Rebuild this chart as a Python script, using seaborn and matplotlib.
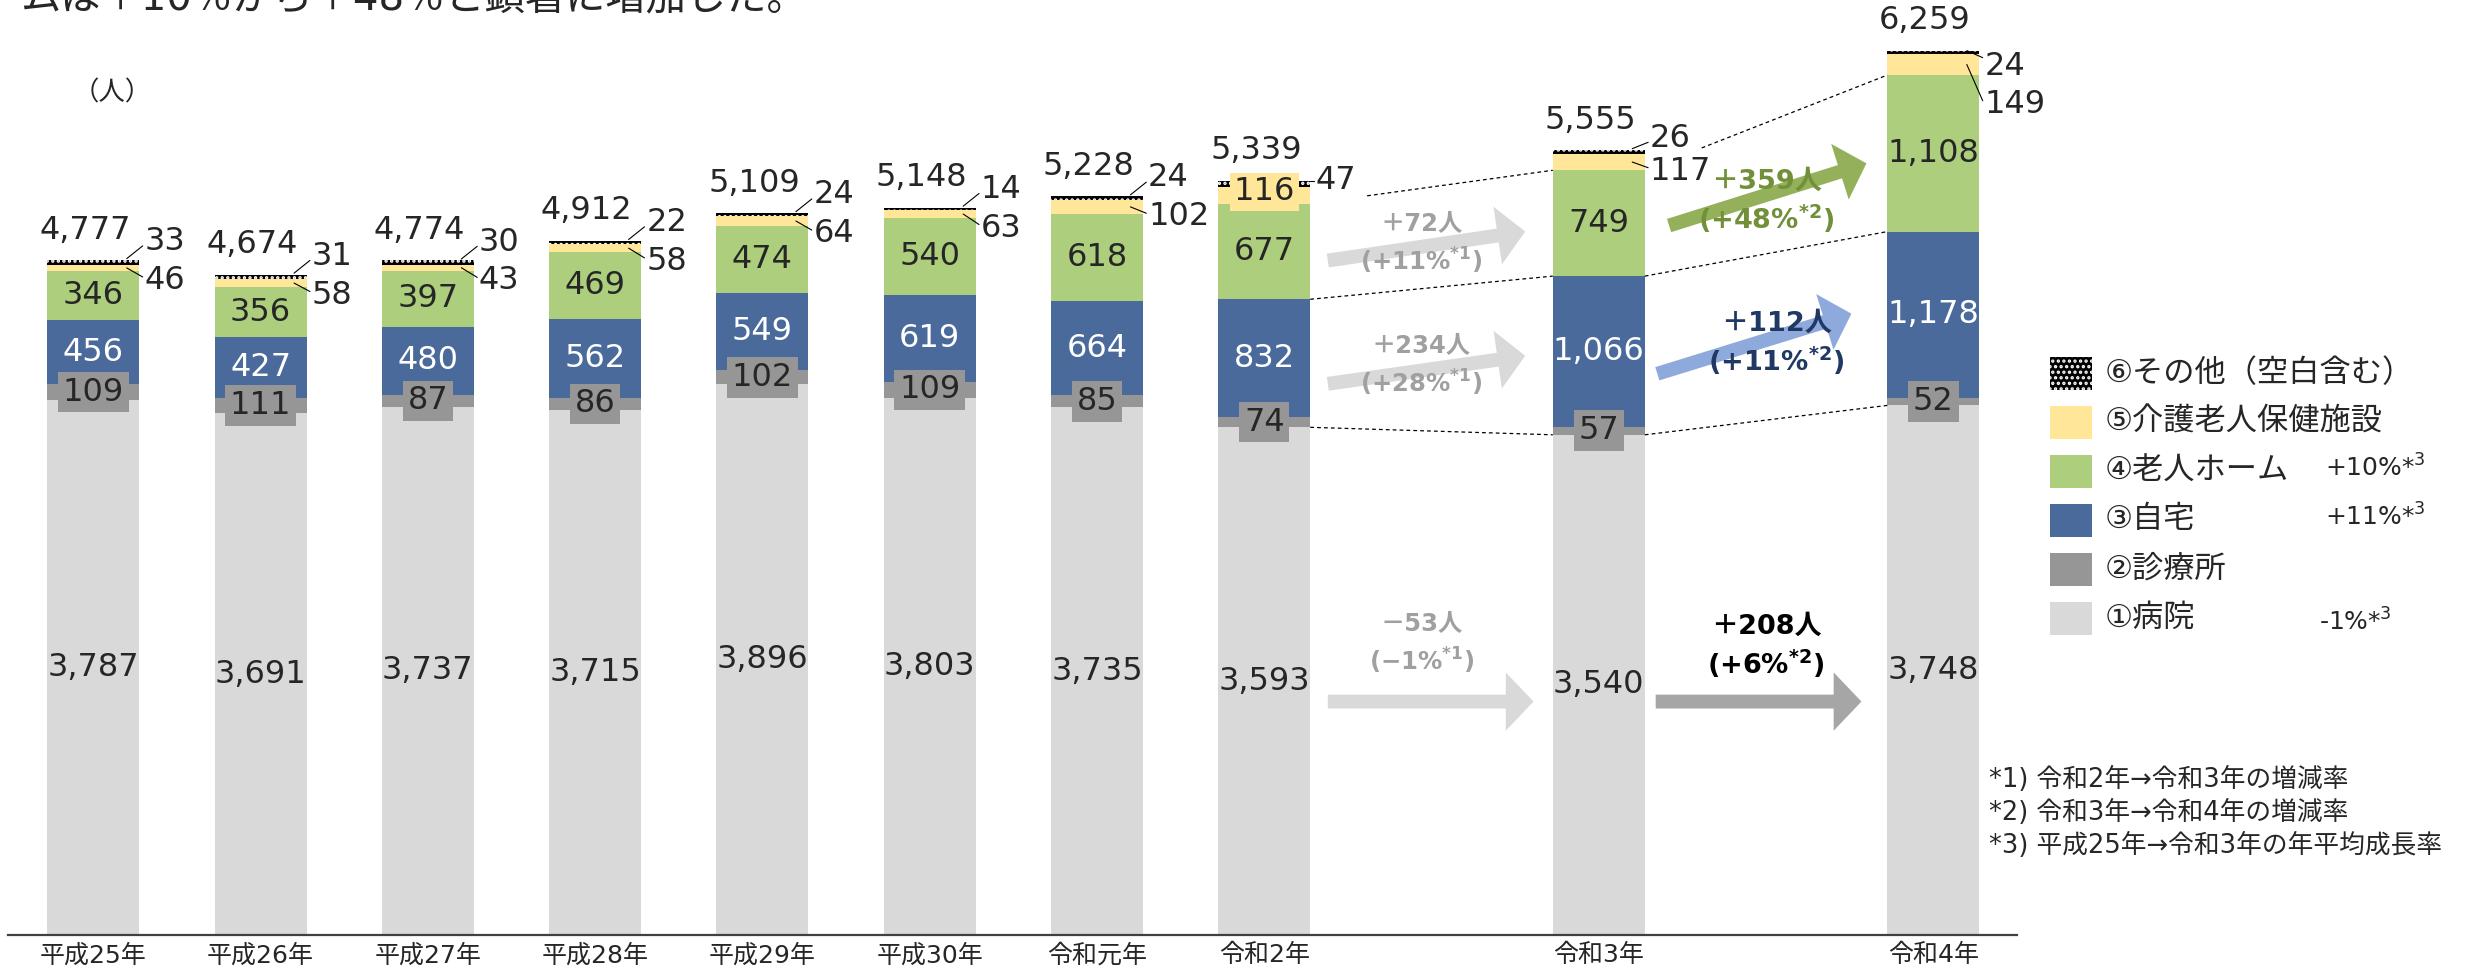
import numpy as np
import seaborn as sns
import matplotlib.pyplot as plt
from matplotlib.patches import Rectangle, FancyArrowPatch, ArrowStyle


# x axis categories
YEARS = ['平成25年', '平成26年', '平成27年', '平成28年', '平成29年',
  '平成30年', '令和元年', '令和2年', '令和3年', '令和4年']

# stacked series, bottom to top (人)
HOSPITAL = [3787, 3691, 3737, 3715, 3896, 3803, 3735, 3593, 3540, 3748]
CLINIC = [109, 111, 87, 86, 102, 109, 85, 74, 57, 52]
HOME = [456, 427, 480, 562, 549, 619, 664, 832, 1066, 1178]
NURSING = [346, 356, 397, 469, 474, 540, 618, 677, 749, 1108]
ROKEN = [46, 58, 43, 58, 64, 63, 102, 116, 117, 149]
OTHER = [33, 31, 30, 22, 24, 14, 24, 47, 26, 24]

SERIES_NAMES = ['①病院', '②診療所', '③自宅', '④老人ホーム',
  '⑤介護老人保健施設', '⑥その他（空白含む）']

FOOTNOTES = ['*1) 令和2年→令和3年の増減率',
  '*2) 令和3年→令和4年の増減率',
  '*3) 平成25年→令和3年の年平均成長率']

HEADLINE = 'ムは＋10％から＋48％と顕著に増加した。'

# ---- layout / style ----
W, H, DPI = 2471, 972, 100
POS = [0, 1, 2, 3, 4, 5, 6, 7, 9, 11]   # gaps before 令和3年 and 令和4年
BAR_W = 0.55
PX_PER_UNIT = 0.1413
COLORS = ['#D9D9D9', '#969696', '#4A6A9C', '#ADCF7D', '#FFE699', '#000000']
OTHER_DY = [130] * 7 + [0, 85, -110]      # label offsets from bar top
ROKEN_DY = [-145] * 7 + [None, -150, -380]
FS_VAL = 23


def fx(px):
  return px / W


def fy(py):
  return 1 - py / H


'''
Stack the six series by drawing the running totals
from the tallest down, each on top of the previous one.
'''
def draw_bars(ax, layers):
  cum = np.cumsum(np.array(layers), axis=0)
  for k in reversed(range(len(layers))):
    extra = dict(hatch='...', edgecolor='white') if k == 5 else dict(edgecolor='none')
    sns.barplot(x=POS, y=cum[k], native_scale=True, width=BAR_W,
      color=COLORS[k], saturation=1, errorbar=None, linewidth=0, ax=ax, **extra)
  return cum


'''
Value labels inside / beside / above every bar.
'''
def label_bars(ax, cum, layers):
  hosp, clin, home, nurs, roken, other = layers
  for i, x in enumerate(POS):
    total = cum[5][i]
    ax.text(x, hosp[i] / 2, f'{hosp[i]:,}', ha='center', va='center', fontsize=FS_VAL)
    ax.text(x, cum[0][i] + clin[i] / 2, f'{clin[i]:,}', ha='center', va='center',
      fontsize=FS_VAL, bbox=dict(boxstyle='square,pad=0.15', fc=COLORS[1], ec='none'))
    ax.text(x, cum[1][i] + home[i] / 2, f'{home[i]:,}', ha='center', va='center',
      fontsize=FS_VAL, color='white')
    ax.text(x, cum[2][i] + nurs[i] / 2, f'{nurs[i]:,}', ha='center', va='center',
      fontsize=FS_VAL)
    ax.text(x - 0.05, total + 152, f'{total:,}', ha='center', va='baseline', fontsize=FS_VAL)

    # ⑥ and ⑤ sit right of the bar with a small leader line
    lx = x + BAR_W / 2 + 0.03
    oy = total + OTHER_DY[i]
    ax.text(lx, oy, f'{other[i]}', ha='left', va='center', fontsize=FS_VAL)
    if OTHER_DY[i] > 0:
      ax.plot([x + 0.2, lx - 0.01], [total + 10, oy - 30], color='black', lw=0.8)
    elif OTHER_DY[i] < 0:
      ax.plot([x + 0.2, lx - 0.01], [total, oy + 60], color='black', lw=0.8)
    else:
      ax.plot([x + BAR_W / 2, lx - 0.01], [total, total], color='black', lw=0.8)

    yc = cum[3][i] + roken[i] / 2
    if ROKEN_DY[i] is None:  # 令和2年: label drawn on the bar
      ax.text(x, yc + 25, f'{roken[i]}', ha='center', va='center', fontsize=FS_VAL,
        bbox=dict(boxstyle='square,pad=0.12', fc=COLORS[4], ec='none'))
      continue
    ky = total + ROKEN_DY[i]
    ax.text(lx, ky, f'{roken[i]}', ha='left', va='center', fontsize=FS_VAL)
    ax.plot([x + 0.2, lx - 0.01], [yc, ky + 25], color='black', lw=0.8)


'''
Dashed guides between 令和2年, 令和3年 and 令和4年.
'''
def draw_links(ax, cum):
  for k in (0, 2, 3):
    for i in (7, 8):
      x0, x1 = POS[i] + BAR_W / 2, POS[i + 1] - BAR_W / 2
      y0, y1 = cum[k][i], cum[k][i + 1]
      if k == 3:  # start after the side labels
        skip = 0.34
        y0 = y0 + (y1 - y0) * skip / (x1 - x0)
        x0 = x0 + skip
      ax.plot([x0, x1], [y0, y1], color='black', lw=0.9, ls=(0, (3, 2.5)), zorder=2)


def change_text(before, after, mark):
  d = after - before
  pct = round(d / before * 100)
  line1 = ('＋' if d >= 0 else '－') + f'{abs(d)}人'
  line2 = '(' + ('+' if pct >= 0 else '−') + f'{abs(pct)}%' + r'$^{\mathbf{*' + mark + '}}$)'
  return line1, line2


'''
Block arrows with the change counts between the last three years.
'''
def draw_arrows(ax, layers):
  hosp, clin, home, nurs = layers[:4]
  # (series, from, to, tail xy, tip xy, arrow colour, text colour, text x, text y, size)
  notes = [
    (nurs, 7, 8, (7.38, 4773), (8.56, 4979), '#D9D9D9', '#A0A0A0', 7.94, 5035, 17.5),
    (home, 7, 8, (7.38, 3901), (8.56, 4099), '#D9D9D9', '#A0A0A0', 7.94, 4170, 17.5),
    (hosp, 7, 8, (7.38, 1652), (8.61, 1652), '#D9D9D9', '#A0A0A0', 7.94, 2199, 17.5),
    (nurs, 8, 9, (9.42, 5021), (10.6, 5461), '#94B05A', '#72903A', 10.0, 5333, 19.5),
    (home, 8, 9, (9.35, 3972), (10.51, 4397), '#8EA9DB', '#1F3864', 10.06, 4326, 19.5),
    (hosp, 8, 9, (9.34, 1652), (10.57, 1652), '#A6A6A6', '#000000', 10.0, 2184, 19.5),
  ]
  style = ArrowStyle.Simple(head_length=20, head_width=42, tail_width=10)
  for s, a, b, p0, p1, ac, tc, tx, ty, fs in notes:
    ax.add_patch(FancyArrowPatch(p0, p1, arrowstyle=style, mutation_scale=1,
      color=ac, lw=0, shrinkA=0, shrinkB=0, zorder=1.5))
    l1, l2 = change_text(s[a], s[b], '1' if a == 7 else '2')
    ax.text(tx, ty, l1, ha='center', va='center', fontsize=fs, color=tc, weight='bold')
    ax.text(tx, ty - 262, l2, ha='center', va='center', fontsize=fs, color=tc, weight='bold')


'''
Hand placed legend, growth rates and notes on the right.
'''
def draw_legend(fig, layers):
  for k in range(6):
    row = 373 + 49 * (5 - k)
    extra = dict(hatch='...', edgecolor='white') if k == 5 else dict(edgecolor='none')
    fig.add_artist(Rectangle((fx(2050), fy(row + 17)), 42 / W, 33 / H,
      transform=fig.transFigure, facecolor=COLORS[k], lw=0, **extra))
    fig.text(fx(2105), fy(row), SERIES_NAMES[k], va='center', fontsize=22.5)

  # average yearly growth 平成25年 -> 令和3年 (8 years)
  for k, xp, yp in ((3, 2325, 468), (2, 2325, 517), (0, 2319, 622)):
    s = layers[k]
    r = ((s[8] / s[0]) ** (1 / 8) - 1) * 100
    fig.text(fx(xp), fy(yp), f'{r:+.0f}%*' + r'$^{3}$', va='center', fontsize=18)

  for j, note in enumerate(FOOTNOTES):
    fig.text(fx(1989), fy(780 + 33 * j), note, va='center', fontsize=18.5)


'''
Entry point for our program
'''
def main():
  sns.set_style('white')
  plt.rcParams['font.family'] = ['DejaVu Sans', 'Noto Sans CJK JP']
  plt.rcParams['hatch.linewidth'] = 1.6

  fig = plt.figure(figsize=(W / DPI, H / DPI), dpi=DPI)
  ax = fig.add_axes([fx(8), 1 - 935 / H, (2017 - 8) / W, 930 / H])

  layers = [HOSPITAL, CLINIC, HOME, NURSING, ROKEN, OTHER]
  cum = draw_bars(ax, layers)
  ax.set_xlim(-0.51, 11.5)
  ax.set_ylim(0, 930 / PX_PER_UNIT)

  label_bars(ax, cum, layers)
  draw_links(ax, cum)
  draw_arrows(ax, layers)

  ax.set_xticks(POS)
  ax.set_xticklabels(YEARS, fontsize=18)
  ax.tick_params(axis='x', length=0, pad=6)
  ax.set_yticks([])
  ax.set_xlabel('')
  ax.set_ylabel('')
  sns.despine(ax=ax, left=True)
  ax.spines['bottom'].set_color('#404040')
  ax.spines['bottom'].set_linewidth(1.6)

  fig.text(fx(112), fy(93), '（人）', ha='center', va='center', fontsize=19)
  # first line of the slide text, cut by the top edge as in the source
  fig.text(fx(20), fy(10), HEADLINE, va='baseline', fontsize=29)
  draw_legend(fig, layers)

  fig.savefig('out.png', dpi=DPI)


# running via "python plot.py"
if __name__ == "__main__":
  main()
